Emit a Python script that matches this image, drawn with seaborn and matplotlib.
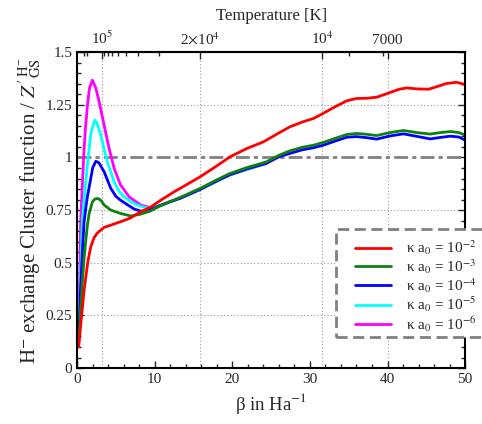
import numpy as np
import pandas as pd
import matplotlib
matplotlib.use("Agg")
import matplotlib.pyplot as plt
from matplotlib.patches import Rectangle
import seaborn as sns

# curves: beta [1/Ha] and cluster function ratio
red_beta = [0.2, 0.45, 0.69, 0.9, 1.12, 1.4, 1.76, 2.2, 2.62, 3.48, 4.3, 5.2, 6.0, 6.9, 8.1, 9.5,
            10.7, 12.5, 13.27, 15.85, 17.8, 19.7, 21.9, 24.0, 25.7, 27.4, 29.0, 30.45, 31.7, 33.2,
            34.75, 36.0, 37.3, 38.6, 40.3, 41.5, 42.5, 44.0, 45.3, 46.5, 47.6, 48.9, 50.0]
red_val = [0.10, 0.20, 0.29, 0.37, 0.433, 0.51, 0.576, 0.62, 0.642, 0.668, 0.678, 0.69, 0.70, 0.713,
           0.74, 0.765, 0.795, 0.837, 0.853, 0.908, 0.955, 1.003, 1.043, 1.074, 1.11, 1.145, 1.168,
           1.185, 1.209, 1.24, 1.269, 1.280, 1.281, 1.286, 1.308, 1.324, 1.330, 1.325, 1.324, 1.338,
           1.351, 1.357, 1.346]

green_beta = [0.2, 0.45, 0.69, 0.9, 1.12, 1.33, 1.55, 1.97, 2.3, 2.7, 3.1, 3.48, 4.34, 5.6, 6.9, 8.1,
              9.4, 10.7, 12.0, 13.27, 15.85, 17.8, 19.7, 21.9, 24.4, 26.0, 27.4, 29.0, 30.45, 31.7,
              33.2, 34.75, 36.0, 37.3, 38.6, 40.3, 42.05, 43.8, 45.5, 46.8, 48.1, 49.2, 50.0]
green_val = [0.12, 0.28, 0.418, 0.52, 0.607, 0.68, 0.734, 0.789, 0.803, 0.805, 0.795, 0.774, 0.750,
             0.734, 0.722, 0.73, 0.745, 0.77, 0.79, 0.810, 0.853, 0.89, 0.924, 0.952, 0.979, 1.01,
             1.031, 1.048, 1.058, 1.071, 1.09, 1.109, 1.114, 1.110, 1.104, 1.118, 1.128, 1.118,
             1.111, 1.118, 1.123, 1.118, 1.106]

blue_beta = [0.2, 0.45, 0.69, 0.9, 1.12, 1.33, 1.76, 2.0, 2.41, 2.8, 3.48, 4.34, 5.0, 5.6, 6.5, 7.35,
             8.2, 9.06, 10.0, 10.7, 12.0, 13.27, 15.85, 17.8, 19.7, 21.9, 24.4, 26.0, 27.4, 29.0,
             30.45, 31.7, 33.2, 34.75, 36.0, 37.3, 38.6, 40.3, 42.05, 43.8, 45.5, 46.8, 48.1, 49.2, 50.0]
blue_val = [0.13, 0.38, 0.56, 0.694, 0.76, 0.815, 0.90, 0.95, 0.982, 0.975, 0.932, 0.853, 0.815,
            0.797, 0.775, 0.755, 0.745, 0.748, 0.76, 0.772, 0.79, 0.806, 0.848, 0.885, 0.918, 0.946,
            0.972, 1.003, 1.019, 1.036, 1.046, 1.058, 1.077, 1.096, 1.099, 1.094, 1.087, 1.102,
            1.112, 1.100, 1.088, 1.095, 1.101, 1.097, 1.082]

cyan_beta = [0.2, 0.45, 0.69, 0.9, 1.12, 1.33, 1.55, 1.8, 2.28, 2.6, 3.05, 3.48, 3.9, 4.77, 5.4, 6.06,
             6.9, 7.77, 8.6, 9.5, 10.7, 12.0, 13.27, 15.85, 19.7, 24.4]
cyan_val = [0.14, 0.45, 0.71, 0.80, 0.884, 0.97, 1.043, 1.12, 1.177, 1.16, 1.106, 1.04, 0.979, 0.884,
            0.84, 0.813, 0.79, 0.774, 0.764, 0.758, 0.772, 0.79, 0.806, 0.848, 0.918, 0.972]

magenta_beta = [0.2, 0.47, 0.69, 0.9, 1.12, 1.33, 1.6, 1.97, 2.4, 2.84, 3.48, 4.12, 4.77, 5.6, 6.7,
                8.2, 9.5, 10.8, 12.0, 13.27, 15.85, 19.7, 24.4]
magenta_val = [0.15, 0.71, 0.884, 1.043, 1.16, 1.248, 1.33, 1.367, 1.33, 1.264, 1.153, 1.043, 0.948,
               0.869, 0.813, 0.774, 0.761, 0.772, 0.79, 0.806, 0.848, 0.918, 0.972]

labels = [r"κ a$_0$ = 10$^{-2}$", r"κ a$_0$ = 10$^{-3}$", r"κ a$_0$ = 10$^{-4}$",
          r"κ a$_0$ = 10$^{-5}$", r"κ a$_0$ = 10$^{-6}$"]
colors = ["#ff0000", "#108010", "#0000ff", "#00ffff", "#ff00ff"]

# top axis: temperature ticks, placed where they sit in the picture (beta units)
temp_tick_beta = [3.16, 15.8, 31.6, 40.0]
temp_tick_labels = [r"10$^5$", r"2$\times$10$^4$", r"10$^4$", "7000"]
temp_minor_beta = [0.9, 1.33, 3.51, 3.95, 4.51, 5.26, 6.32, 7.89, 10.53, 35.09, 39.47]

series = [(red_beta, red_val), (green_beta, green_val), (blue_beta, blue_val),
          (cyan_beta, cyan_val), (magenta_beta, magenta_val)]
frames = []
for lab, (b, v) in zip(labels, series):
    frames.append(pd.DataFrame({"beta": b, "ratio": v, "kappa": lab}))
df = pd.concat(frames, ignore_index=True)

sns.set_style("ticks")
plt.rcParams["font.family"] = ["Liberation Serif", "DejaVu Serif"]
plt.rcParams["mathtext.fontset"] = "stix"

fig = plt.figure(figsize=(4.82, 4.24), dpi=100)
ax = fig.add_axes([0.16, 0.132, 0.805, 0.745])

# draw last series first so the red one ends on top
for lab, col in reversed(list(zip(labels, colors))):
    sub = df[df["kappa"] == lab]
    sns.lineplot(data=sub, x="beta", y="ratio", color=col, lw=2.0, sort=False,
                 estimator=None, label=lab, ax=ax)

ax.axhline(1.0, color="#808080", lw=2.0, ls=(0, (5, 1.5, 1.5, 1.5)), zorder=1)
for b in temp_tick_beta:
    ax.axvline(b, color="#999999", lw=0.8, ls=(0, (1, 2)), zorder=0)
for yv in [0.25, 0.5, 0.75, 1.25]:
    ax.axhline(yv, color="#999999", lw=0.8, ls=(0, (1, 2)), zorder=0)

ax.set_xlim(0, 50)
ax.set_ylim(0, 1.5)
ax.set_xticks([0, 10, 20, 30, 40, 50])
ax.set_xticks(np.arange(0, 51, 2), minor=True)
ax.set_yticks([0, 0.25, 0.5, 0.75, 1.0, 1.25, 1.5])
ax.set_yticklabels(["0", "0.25", "0.5", "0.75", "1", "1.25", "1.5"])
ax.set_yticks(np.arange(0, 1.51, 0.05), minor=True)
ax.tick_params(which="both", direction="in", right=True, top=False, labelsize=11, width=1.0)
ax.tick_params(which="major", length=5)
ax.tick_params(which="minor", length=3)
for sp in ax.spines.values():
    sp.set_linewidth(1.5)
    sp.set_color("black")

ax.set_xlabel(r"β in Ha$^{-1}$", fontsize=13.5, labelpad=4)
ax.set_ylabel(r"H$^{-}$ exchange Cluster function / ${Z'}^{\,\mathrm{H}^{-}}_{\mathrm{GS}}$",
              fontsize=15, labelpad=2)

top = ax.secondary_xaxis("top")
top.set_xticks(temp_tick_beta)
top.set_xticklabels(temp_tick_labels)
top.set_xticks(temp_minor_beta, minor=True)
top.tick_params(which="both", direction="in", labelsize=11, width=1.0)
top.tick_params(which="major", length=5)
top.tick_params(which="minor", length=3)
top.spines["top"].set_linewidth(1.5)
top.set_xlabel("Temperature [K]", fontsize=12, labelpad=7)

# legend: dashed box that runs past the right edge, entries without own frame
ax.add_patch(Rectangle((0.6675, 0.098), 0.5, 0.342, transform=ax.transAxes, fill=True,
                       facecolor="white", edgecolor="#808080", lw=2.0, ls=(0, (4, 2)),
                       clip_on=False, zorder=5))
handles, labs = ax.get_legend_handles_labels()
handles, labs = handles[::-1], labs[::-1]
leg = ax.legend(handles, labs, loc="upper left", bbox_to_anchor=(0.715, 0.41),
                fontsize=11, handlelength=2.4, handletextpad=1.0,
                labelspacing=0.0, borderpad=0, borderaxespad=0, frameon=False)
leg.set_zorder(6)

fig.savefig("out.png", dpi=100)
